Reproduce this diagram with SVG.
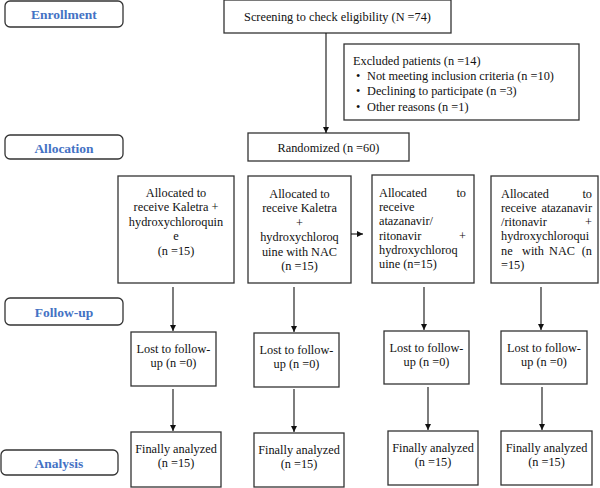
<svg xmlns="http://www.w3.org/2000/svg" width="600" height="488" viewBox="0 0 600 488">
<defs>
<marker id="ah" markerWidth="6" markerHeight="6" refX="6" refY="3" orient="auto" markerUnits="userSpaceOnUse">
<path d="M0,0 L6,3 L0,6 Z" fill="#111"/>
</marker>
<style>
.lbl{fill:#fff;stroke:#333;stroke-width:1.3}
.lt{font-family:"Liberation Serif","Times New Roman",serif;font-weight:bold;font-size:13.5px;fill:#4472c4;text-anchor:middle}
.box{fill:#fff;stroke:#333;stroke-width:1.3}
.t{font-family:"Liberation Serif","Times New Roman",serif;font-size:12.3px;fill:#111}
.c{text-anchor:middle}
.r{text-anchor:end}
.ln{stroke:#111;stroke-width:1.1;fill:none;marker-end:url(#ah)}
</style>
</defs>
<rect width="600" height="488" fill="#fff"/>

<g id="enrollment"><rect class="lbl" x="5" y="1" width="118" height="26" rx="5"/><text class="lt" x="64" y="19">Enrollment</text></g>
<g id="allocation"><rect class="lbl" x="5" y="135" width="118" height="24" rx="5"/><text class="lt" x="64" y="153">Allocation</text></g>
<g id="followup"><rect class="lbl" x="5" y="298" width="118" height="27" rx="5"/><text class="lt" x="64" y="317">Follow-up</text></g>
<g id="analysis"><rect class="lbl" x="1" y="450" width="117" height="25" rx="5"/><text class="lt" x="59" y="468">Analysis</text></g>

<g id="screening"><rect class="box" x="224" y="0" width="227" height="33"/><text class="t c" x="337.5" y="21">Screening to check eligibility (N =74)</text></g>

<g id="excluded"><rect class="box" x="344" y="44" width="235" height="76"/>
<text class="t" x="353" y="65">Excluded patients (n =14)</text>
<text class="t" x="356" y="80">•</text><text class="t" x="367" y="80">Not meeting inclusion criteria (n =10)</text>
<text class="t" x="356" y="95">•</text><text class="t" x="367" y="95">Declining to participate (n =3)</text>
<text class="t" x="356" y="111">•</text><text class="t" x="367" y="111">Other reasons (n =1)</text>
</g>

<g id="randomized"><rect class="box" x="248" y="133" width="161" height="28"/><text class="t c" x="328.5" y="152">Randomized (n =60)</text></g>

<g id="arm1"><rect class="box" x="118" y="176" width="116" height="107"/>
<text class="t c" x="176" y="197">Allocated to</text>
<text class="t c" x="176" y="211">receive Kaletra +</text>
<text class="t c" x="176" y="225.5">hydroxychloroquin</text>
<text class="t c" x="176" y="240">e</text>
<text class="t c" x="176" y="254.5">(n =15)</text>
</g>

<g id="arm2"><rect class="box" x="248" y="176" width="103" height="107"/>
<text class="t c" x="299.5" y="197.5">Allocated to</text>
<text class="t c" x="299.5" y="212">receive Kaletra</text>
<text class="t c" x="299.5" y="226.5">+</text>
<text class="t c" x="299.5" y="241">hydroxychloroq</text>
<text class="t c" x="299.5" y="255.5">uine with NAC</text>
<text class="t c" x="299.5" y="270">(n =15)</text>
</g>

<g id="arm3"><rect class="box" x="372" y="175" width="102" height="108"/>
<text class="t" x="379" y="196.5">Allocated</text><text class="t r" x="466" y="196.5">to</text>
<text class="t" x="379" y="210.5">receive</text>
<text class="t" x="379" y="225">atazanavir/</text>
<text class="t" x="379" y="239.5">ritonavir</text><text class="t r" x="466" y="239.5">+</text>
<text class="t" x="379" y="253.5">hydroxychloroq</text>
<text class="t" x="379" y="268">uine (n=15)</text>
</g>

<g id="arm4"><rect class="box" x="491" y="176" width="107" height="107"/>
<text class="t" x="501" y="197.5">Allocated</text><text class="t r" x="592" y="197.5">to</text>
<text class="t" x="501" y="211.5">receive</text><text class="t r" x="592" y="211.5">atazanavir</text>
<text class="t" x="501" y="226">/ritonavir</text><text class="t r" x="592" y="226">+</text>
<text class="t" x="501" y="240">hydroxychloroqui</text>
<text class="t" x="501" y="254.5">ne</text><text class="t" x="522" y="254.5">with</text><text class="t" x="549" y="254.5">NAC</text><text class="t r" x="592" y="254.5">(n</text>
<text class="t" x="501" y="268.5">=15)</text>
</g>

<g id="lost1"><rect class="box" x="131" y="332" width="85" height="54"/><text class="t c" x="173.5" y="352.5">Lost to follow-</text><text class="t c" x="173.5" y="367">up (n =0)</text></g>
<g id="lost2"><rect class="box" x="254" y="333" width="85" height="54"/><text class="t c" x="296.5" y="353.5">Lost to follow-</text><text class="t c" x="296.5" y="368">up (n =0)</text></g>
<g id="lost3"><rect class="box" x="384" y="331" width="85" height="53"/><text class="t c" x="426.5" y="351.5">Lost to follow-</text><text class="t c" x="426.5" y="366">up (n =0)</text></g>
<g id="lost4"><rect class="box" x="501" y="331" width="86" height="53"/><text class="t c" x="544" y="351.5">Lost to follow-</text><text class="t c" x="544" y="366">up (n =0)</text></g>

<g id="final1"><rect class="box" x="131" y="432" width="90" height="55"/><text class="t c" x="176" y="452.5">Finally analyzed</text><text class="t c" x="176" y="467">(n =15)</text></g>
<g id="final2"><rect class="box" x="254" y="433" width="90" height="54"/><text class="t c" x="299" y="453.5">Finally analyzed</text><text class="t c" x="299" y="468">(n =15)</text></g>
<g id="final3"><rect class="box" x="388" y="431" width="90" height="54"/><text class="t c" x="433" y="451.5">Finally analyzed</text><text class="t c" x="433" y="466">(n =15)</text></g>
<g id="final4"><rect class="box" x="501" y="431" width="91" height="54"/><text class="t c" x="546.5" y="451.5">Finally analyzed</text><text class="t c" x="546.5" y="466">(n =15)</text></g>

<g id="connectors">
<line class="ln" x1="326" y1="33" x2="326" y2="133"/>
<line class="ln" x1="351" y1="234" x2="363" y2="234"/>
<line class="ln" x1="173" y1="287" x2="173" y2="331"/>
<line class="ln" x1="294" y1="287" x2="294" y2="332"/>
<line class="ln" x1="424" y1="287" x2="424" y2="330"/>
<line class="ln" x1="541" y1="287" x2="541" y2="330"/>
<line class="ln" x1="173" y1="389" x2="173" y2="431"/>
<line class="ln" x1="294" y1="389" x2="294" y2="432"/>
<line class="ln" x1="428" y1="387" x2="428" y2="430"/>
<line class="ln" x1="542" y1="387" x2="542" y2="430"/>
</g>
</svg>
